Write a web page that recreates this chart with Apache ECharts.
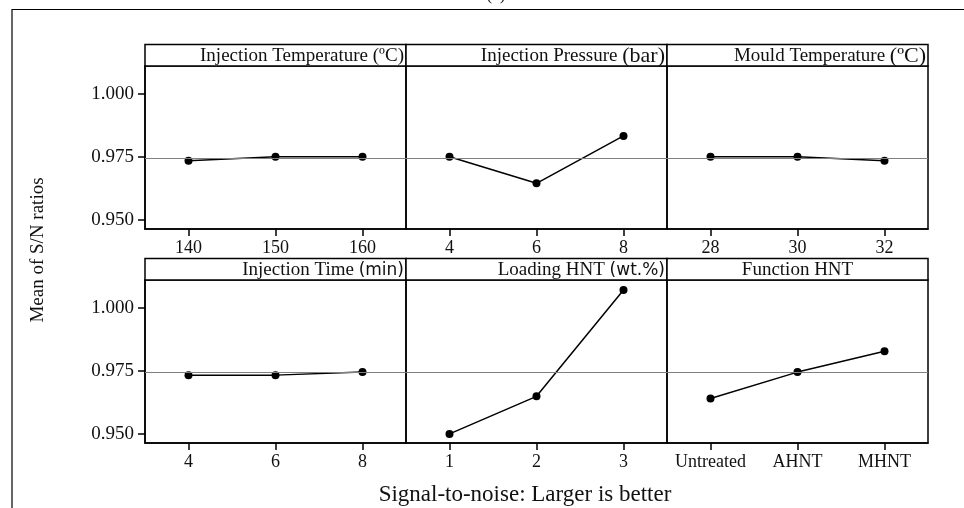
<!DOCTYPE html>
<html>
<head>
<meta charset="utf-8">
<script src="https://cdn.jsdelivr.net/npm/echarts@6/dist/echarts.min.js"></script>
<style>html,body{margin:0;padding:0;background:#fff}#c{width:964px;height:508px}</style>
</head>
<body>
<div id="c"></div>
<script>
// ---- data ----
const injTempLevels = ['140', '150', '160'];
const injTempSN = [0.9734, 0.9750, 0.9750];
const injPressLevels = ['4', '6', '8'];
const injPressSN = [0.9750, 0.9645, 0.9833];
const mouldLevels = ['28', '30', '32'];
const mouldSN = [0.9750, 0.9750, 0.9734];
const injTimeLevels = ['4', '6', '8'];
const injTimeSN = [0.9733, 0.9733, 0.9745];
const loadingLevels = ['1', '2', '3'];
const loadingSN = [0.9500, 0.9649, 1.0070];
const functionLevels = ['Untreated', 'AHNT', 'MHNT'];
const functionSN = [0.9640, 0.9745, 0.9828];
const yTickValues = [0.950, 0.975, 1.000];
const overallMean = 0.9743;

const panelTitles = [
  {main: 'Injection Temperature ', unit: '(ºC)', unitStyle: 'serif', align: 'right'},
  {main: 'Injection Pressure ', unit: '(bar)', unitStyle: 'serifBig', align: 'right'},
  {main: 'Mould Temperature ', unit: '(ºC)', unitStyle: 'serifBig', align: 'right'},
  {main: 'Injection Time ', unit: '(min)', unitStyle: 'sans', align: 'right'},
  {main: 'Loading HNT ', unit: '(wt.%)', unitStyle: 'sans', align: 'right'},
  {main: 'Function HNT', unit: '', unitStyle: 'serif', align: 'center'}
];
const panelLevels = [injTempLevels, injPressLevels, mouldLevels, injTimeLevels, loadingLevels, functionLevels];
const panelValues = [injTempSN, injPressSN, mouldSN, injTimeSN, loadingSN, functionSN];

// ---- layout ----
const SERIF = 'Liberation Serif';
const L0 = 145, PW = 261, STRIP = 21.5;
const rowTop = [66, 280], PH = 163;
const yMin = 0.9464, yMax = 1.011;

const grids = [], xAxes = [], yAxes = [], series = [], graphics = [];
for (let i = 0; i < 6; i++) {
  const col = i % 3, row = Math.floor(i / 3);
  const left = L0 + col * PW, top = rowTop[row];
  grids.push({left: left, top: top, width: PW, height: PH, show: true,
    borderColor: '#000', borderWidth: 1.5, backgroundColor: 'transparent', containLabel: false});
  xAxes.push({type: 'category', gridIndex: i, data: panelLevels[i], boundaryGap: true,
    axisLine: {show: true, lineStyle: {color: '#000', width: 1.5}},
    axisTick: {show: true, alignWithLabel: true, length: 7, lineStyle: {color: '#000', width: 1.5}},
    axisLabel: {color: '#111', fontFamily: SERIF, fontSize: 18, margin: 10, interval: 0},
    splitLine: {show: false}});
  const first = col === 0;
  yAxes.push({type: 'value', gridIndex: i, min: yMin, max: yMax,
    axisLine: {show: first, lineStyle: {color: '#000', width: 1.5}},
    axisTick: {show: first, length: 7, customValues: yTickValues, lineStyle: {color: '#000', width: 1.5}},
    axisLabel: {show: first, customValues: yTickValues, color: '#111', fontFamily: SERIF, fontSize: 19, margin: 11,
      formatter: v => v.toFixed(3)},
    splitLine: {show: false}});
  series.push({type: 'line', xAxisIndex: i, yAxisIndex: i, data: panelValues[i],
    symbol: 'circle', symbolSize: 8, itemStyle: {color: '#000'},
    lineStyle: {color: '#000', width: 1.5}, silent: true, animation: false,
    markLine: {silent: true, symbol: 'none', precision: 4, label: {show: false}, animation: false,
      lineStyle: {color: '#808080', width: 1.2, type: 'solid'},
      data: [{yAxis: overallMean}]}});
  // strip header
  const t = panelTitles[i];
  const tx = t.align === 'center' ? left + PW / 2 : left + PW - 2;
  graphics.push({type: 'rect', shape: {x: left, y: top - STRIP, width: PW, height: STRIP},
    style: {fill: '#fff', stroke: '#000', lineWidth: 1.5}, z: 10});
  graphics.push({type: 'text', x: tx, y: top - STRIP / 2 + 1, z: 11,
    style: {text: '{m|' + t.main + '}' + (t.unit ? '{' + t.unitStyle + '|' + t.unit + '}' : ''),
      align: t.align, verticalAlign: 'middle',
      rich: {
        m: {fontFamily: SERIF, fontSize: 19, fill: '#111'},
        serif: {fontFamily: SERIF, fontSize: 19, fill: '#111'},
        serifBig: {fontFamily: SERIF, fontSize: 22, fill: '#111'},
        sans: {fontFamily: 'DejaVu Sans', fontSize: 17, fill: '#111'}
      }}});
}
// outer frame
graphics.push({type: 'polyline', shape: {points: [[12, 508], [12, 9.5], [964, 9.5]]},
  style: {stroke: '#000', lineWidth: 1.2, fill: null}, z: 1});
graphics.push({type: 'text', x: 496, y: -4, style: {text: '(a)', fontFamily: SERIF, fontSize: 17, fill: '#111', align: 'center', verticalAlign: 'middle'}});
// axis titles
graphics.push({type: 'text', x: 38, y: 250, rotation: Math.PI / 2,
  style: {text: 'Mean of S/N ratios', fontFamily: SERIF, fontSize: 19, fill: '#111', align: 'center', verticalAlign: 'middle'}});
graphics.push({type: 'text', x: 525, y: 495,
  style: {text: 'Signal-to-noise: Larger is better', fontFamily: SERIF, fontSize: 23, fill: '#111', align: 'center', verticalAlign: 'middle'}});

const chart = echarts.init(document.getElementById('c'), null, {renderer: 'canvas'});
chart.setOption({
  animation: false,
  backgroundColor: '#fff',
  grid: grids, xAxis: xAxes, yAxis: yAxes, series: series, graphic: graphics
});
</script>
</body>
</html>
